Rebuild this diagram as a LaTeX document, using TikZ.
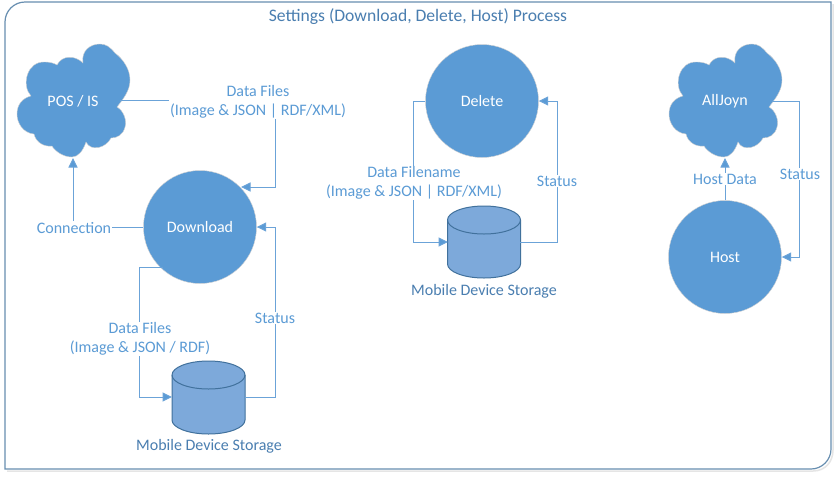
\documentclass[tikz,border=0pt]{standalone}
\usepackage{fontspec}
\setmainfont{Carlito}
\usetikzlibrary{arrows.meta}
\definecolor{fillblue}{HTML}{5B9BD5}
\definecolor{cylblue}{HTML}{7DA9DA}
\definecolor{cyledge}{HTML}{41719C}
\definecolor{framec}{HTML}{41719C}
\definecolor{linec}{HTML}{6BA3D8}
\definecolor{labelc}{HTML}{5B9BD5}
\definecolor{darkl}{HTML}{4A7EB0}
\tikzset{
  x=1pt,y=-1pt,
  conn/.style={draw=linec,line width=1pt},
  arrowconn/.style={conn,-{Triangle[length=9.5pt,width=9pt,fill=fillblue]}},
  lbl/.style={text=labelc,font=\fontsize{16}{19}\selectfont,align=center,fill=white,inner sep=1pt},
  plainlbl/.style={text=darkl,font=\fontsize{16}{19}\selectfont,align=center,inner sep=1pt},
  inner/.style={text=white,font=\fontsize{16}{19}\selectfont,inner sep=0pt},
  disc/.style={circle,fill=fillblue,draw=black!18,line width=.4pt,minimum size=#1,inner sep=0pt,text=white,font=\fontsize{16}{19}\selectfont},
}
% cloud outline relative to the label centre
\newcommand{\cloudshape}[1]{%
\filldraw[fill=fillblue,draw=black!18,line width=.4pt,shift={(#1)}]
 (10,-38) .. controls (8,-50) and (17,-57) .. (27,-57)
 .. controls (33,-57) and (37,-54) .. (42,-48)
 .. controls (50,-42) and (57,-32) .. (57,-21)
 .. controls (57,-10) and (50,-2) .. (44,6)
 .. controls (51,10) and (54,20) .. (52,26)
 .. controls (50,34) and (44,37) .. (38,37)
 .. controls (33,47) and (18,51) .. (13,41)
 .. controls (10,50) and (5,56) .. (-1,56)
 .. controls (-10,56) and (-18,50) .. (-21,45)
 .. controls (-28,46) and (-37,42) .. (-39,33)
 .. controls (-50,32) and (-56,22) .. (-56,13)
 .. controls (-56,3) and (-50,-3) .. (-42,-5)
 .. controls (-52,-16) and (-46,-40) .. (-28,-39)
 .. controls (-24,-39) and (-19,-38) .. (-16,-36)
 .. controls (-11,-46) and (2,-46) .. (10,-38) -- cycle;}
\newcommand{\cylshape}[3]{%
\filldraw[fill=cylblue,draw=cyledge,line width=1pt,shift={(#1,#2)}]
 (-36.5,0) -- (-36.5,#3) arc[start angle=180,end angle=360,x radius=36.5pt,y radius=14pt]
 -- (36.5,0) arc[start angle=0,end angle=180,x radius=36.5pt,y radius=14pt] -- cycle;
\draw[draw=cyledge,line width=1pt,shift={(#1,#2)}] (-36.5,0) arc[start angle=180,end angle=360,x radius=36.5pt,y radius=14pt];}
\begin{document}
\begin{tikzpicture}
\useasboundingbox (0,0) rectangle (837,477);
\fill[white] (0,0) rectangle (837,477);
% frame
\draw[black!10,line width=1.5pt] (7,471) -- (813,471) .. controls (825,471) and (833,462) .. (833,450) -- (833,4);
\draw[framec!80,line width=1.2pt] (5,469) -- (5,22) .. controls (5,11) and (14,2) .. (25,2) -- (831,2) -- (831,449) .. controls (831,460) and (822,469) .. (811,469) -- cycle;
\node[plainlbl,font=\fontsize{17.6}{20}\selectfont] (title) at (418,17) {Settings (Download, Delete, Host) Process};
% clouds and circles
\cloudshape{73,101}
\cloudshape{725,101}
\node[inner] (pos) at (73,101) {POS / IS};
\node[inner] (alljoyn) at (725,101) {AllJoyn};
\node[disc=113pt] (download) at (200,227) {Download};
\node[disc=113pt] (delete) at (482,101) {Delete};
\node[disc=113pt] (host) at (725,257) {Host};
% cylinders
\cylshape{208.5}{375}{45}
\cylshape{484}{220}{44}
\coordinate (sa) at (172,397);
\coordinate (sb) at (245,397);
\coordinate (da) at (448,242);
\coordinate (db) at (520,242);
\node[plainlbl] (st1) at (209,446) {Mobile Device Storage};
\node[plainlbl] (st2) at (484,291) {Mobile Device Storage};
% connectors
\coordinate (posout) at (120,100);
\coordinate (posin) at (73,158);
\coordinate (ajin) at (725,158);
\coordinate (ajout) at (772,101);
\draw[arrowconn] (posout) -- (275,100) -- (275,187) -- (241,187);
\draw[arrowconn] (download.west) -- (73,227) -- (posin);
\draw[arrowconn] (sb) -- (275,397) -- (275,227) -- (download.east);
\draw[arrowconn] (163,267) -- (139,267) -- (139,397) -- (sa);
\draw[arrowconn] (delete.west) -- (413,101) -- (413,242) -- (da);
\draw[arrowconn] (db) -- (557,242) -- (557,101) -- (delete.east);
\draw[arrowconn] (host.north) -- (ajin);
\draw[arrowconn] (ajout) -- (799,101) -- (799,257) -- (host.east);
% labels
\node[lbl] (l1) at (258,102) {Data Files\\(Image \& JSON | RDF/XML)};
\node[lbl] (l2) at (74,228) {Connection};
\node[lbl] (l3) at (140,339) {Data Files\\(Image \& JSON / RDF)};
\node[lbl] (l4) at (275,318) {Status};
\node[lbl] (l5) at (414,183) {Data Filename\\(Image \& JSON | RDF/XML)};
\node[lbl] (l6) at (557,181) {Status};
\node[lbl] (l7) at (725,179) {Host Data};
\node[lbl] (l8) at (800,174) {Status};
\end{tikzpicture}
\end{document}
